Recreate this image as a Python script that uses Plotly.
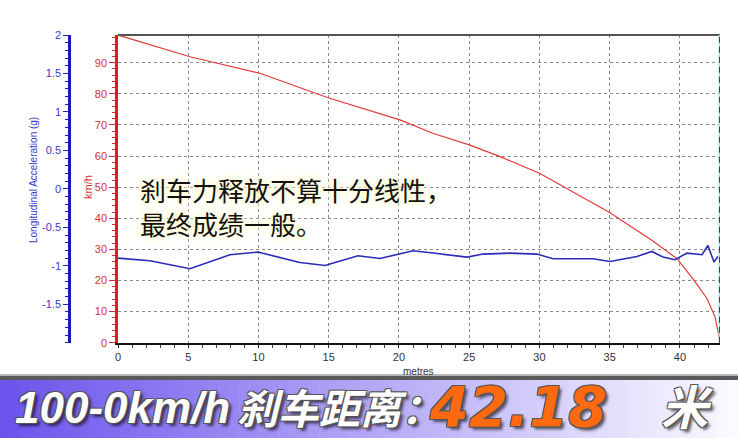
import plotly.graph_objects as go

# ---- data ----
speed_distance_m = [0, 5.12, 10.1, 14.9, 20.07, 22.4, 25.05, 27.2, 30.04, 32.0, 33.4,
                    35.02, 37.97, 39.79, 40.93, 41.92, 42.49, 42.78, 42.85]
speed_kmh = [98.9, 91.9, 86.6, 78.8, 71.6, 67.3, 63.5, 59.8, 54.4, 49.5, 45.9,
             41.8, 33.0, 27.0, 20.5, 14.2, 8.4, 2.5, 0.5]

accel_distance_m = [0, 2.28, 5.12, 7.97, 9.96, 12.95, 14.73, 17.08, 18.65, 19.93, 21.0,
                    22.42, 24.84, 25.98, 27.9, 29.82, 30.96, 33.81, 35.02, 36.94, 38.0,
                    38.79, 39.64, 40.5, 41.57, 41.99, 42.42, 42.7]
accel_g = [-0.90, -0.935, -1.039, -0.857, -0.822, -0.957, -0.996, -0.870, -0.905, -0.848,
           -0.805, -0.835, -0.887, -0.848, -0.835, -0.848, -0.909, -0.909, -0.944, -0.879,
           -0.814, -0.887, -0.922, -0.835, -0.857, -0.736, -0.952, -0.879]

x_ticks = [0, 5, 10, 15, 20, 25, 30, 35, 40]
speed_ticks = [0, 10, 20, 30, 40, 50, 60, 70, 80, 90]
accel_ticks = [-1.5, -1, -0.5, 0, 0.5, 1, 1.5, 2]
accel_tick_text = ["-1.5", "-1", "-0.5", "0", "0.5", "1", "1.5", "2"]

note_lines = ["刹车力释放不算十分线性，", "最终成绩一般。"]
banner_parts = ["100-0km/h", "刹车距离：", "42.18", "米"]

# ---- layout helpers ----
W, H = 738, 438
def px(x):
    return x / W
def py(y):
    return 1 - y / H

X_END = speed_distance_m[-1]

fig = go.Figure()
fig.add_trace(go.Scatter(x=speed_distance_m, y=speed_kmh, mode="lines",
                         line=dict(color="#e23a3a", width=1.2), yaxis="y",
                         showlegend=False, hoverinfo="skip"))
fig.add_trace(go.Scatter(x=accel_distance_m, y=accel_g, mode="lines",
                         line=dict(color="#2b2bb8", width=1.6), yaxis="y2",
                         showlegend=False, hoverinfo="skip"))

tick_font = dict(family="Liberation Sans, Arial, sans-serif", size=11)

fig.update_layout(
    width=W, height=H,
    margin=dict(l=0, r=0, t=0, b=0, autoexpand=False),
    paper_bgcolor="white", plot_bgcolor="white",
    xaxis=dict(domain=[px(118), px(720)], range=[0, X_END], automargin=False,
               tickvals=x_ticks, ticks="outside", ticklen=3, tickcolor="#222",
               tickfont=dict(color="#333", **tick_font),
               showline=True, linecolor="#111", linewidth=2,
               showgrid=True, gridcolor="#8a8a8a", griddash="3px,3px", gridwidth=1,
               minor=dict(dtick=1, ticks="outside", ticklen=3, tickcolor="#444", showgrid=False),
               zeroline=False, fixedrange=True),
    yaxis=dict(domain=[py(342.7), py(35)], range=[0, 98.9], automargin=False,
               tickvals=speed_ticks, ticks="outside", ticklen=6, tickcolor="#d83030",
               tickfont=dict(color="#d83030", **tick_font),
               showline=True, linecolor="#d82020", linewidth=2.5,
               showgrid=True, gridcolor="#8a8a8a", griddash="3px,3px", gridwidth=1,
               minor=dict(dtick=2, ticks="outside", ticklen=3, tickcolor="#d83030", showgrid=False),
               zeroline=False, fixedrange=True),
    yaxis2=dict(overlaying="y", anchor="free", position=px(69), side="left",
                range=[-2, 2], tickvals=accel_ticks, ticktext=accel_tick_text, automargin=False,
                ticks="outside", ticklen=5, tickcolor="#2222bb",
                tickfont=dict(color="#3a3ac8", **tick_font),
                showline=True, linecolor="#1a1ab8", linewidth=2.5,
                showgrid=False, zeroline=False,
                minor=dict(dtick=0.1, ticks="outside", ticklen=3, tickcolor="#2222bb"),
                fixedrange=True),
)

shapes = []
# top border of plot
shapes.append(dict(type="line", xref="paper", yref="paper", x0=px(118), x1=px(720),
                   y0=py(35), y1=py(35), line=dict(color="#555", width=2)))
# end-of-run marker
shapes.append(dict(type="line", xref="x", yref="paper", x0=X_END, x1=X_END,
                   y0=py(342.7), y1=py(35), line=dict(color="#9ee6ee", width=3)))
shapes.append(dict(type="line", xref="x", yref="paper", x0=X_END, x1=X_END,
                   y0=py(342.7), y1=py(35), line=dict(color="#111", width=1.5, dash="6px,4px")))

# banner background gradient
def lerp(a, b, t):
    return int(round(a + (b - a) * t))
c0 = (108, 84, 236)
c1 = (200, 192, 250)
c2 = (250, 250, 255)
n = 74
for i in range(n):
    x0 = i * W / n
    x1 = (i + 1) * W / n + 0.5
    t = i / (n - 1)
    if t < 0.65:
        tt = t / 0.65
        c = tuple(lerp(c0[k], c1[k], tt) for k in range(3))
    else:
        tt = (t - 0.65) / 0.35
        c = tuple(lerp(c1[k], c2[k], tt) for k in range(3))
    shapes.append(dict(type="rect", xref="paper", yref="paper", x0=x0 / W, x1=min(x1, W) / W,
                       y0=0, y1=py(379), fillcolor="rgb(%d,%d,%d)" % c, line=dict(width=0),
                       layer="below"))
shapes.append(dict(type="rect", xref="paper", yref="paper", x0=0, x1=1,
                   y0=py(380), y1=py(376), fillcolor="#5a5a5a", line=dict(width=0)))
shapes.append(dict(type="rect", xref="paper", yref="paper", x0=0, x1=1,
                   y0=py(376), y1=py(374), fillcolor="#b8b8b8", line=dict(width=0)))

annotations = []
annotations.append(dict(xref="paper", yref="paper", x=px(33), y=py(180),
                        xanchor="center", yanchor="middle",
                        text="Longitudinal Acceleration (g)", textangle=-90, showarrow=False,
                        font=dict(family="Liberation Sans, Arial", size=10, color="#3a3ac8")))
annotations.append(dict(xref="paper", yref="paper", x=px(88), y=py(187),
                        xanchor="center", yanchor="middle",
                        text="km/h", textangle=-90, showarrow=False,
                        font=dict(family="Liberation Sans, Arial", size=11, color="#d83030")))
annotations.append(dict(xref="paper", yref="paper", x=px(418), y=py(371),
                        xanchor="center", yanchor="middle",
                        text="metres", showarrow=False, borderpad=0,
                        font=dict(family="Liberation Sans, Arial", size=10, color="#333")))

glow = "0 0 4px #fffbd6, 0 0 8px #fffbd6, 0 0 12px #fff7c8"
annotations.append(dict(xref="paper", yref="paper", x=px(139), y=py(206),
                        xanchor="left", yanchor="middle", align="left",
                        text="<br>".join(note_lines), showarrow=False, borderpad=0,
                        font=dict(family="Noto Sans CJK SC", size=26, color="#111",
                                  shadow=glow)))

outline = ("1px 1px 0 #555, -1px 1px 0 #555, 1px -1px 0 #555, -1px -1px 0 #555, "
           "3px 3px 3px rgba(0,0,0,0.6)")
banner_specs = [
    (banner_parts[0], 14, 44, "white", "Liberation Sans", 407),
    (banner_parts[1], 236, 41, "white", "Noto Sans CJK SC", 406),
    (banner_parts[2], 428, 56, "#ff6a10", "DejaVu Sans", 406),
    (banner_parts[3], 660, 47, "white", "Noto Sans CJK SC", 404),
]
for txt, xl, size, color, fam, yc in banner_specs:
    annotations.append(dict(xref="paper", yref="paper", x=px(xl), y=py(yc),
                            xanchor="left", yanchor="middle", text="<b><i>%s</i></b>" % txt,
                            showarrow=False, borderpad=0,
                            font=dict(family=fam, size=size, color=color, shadow=outline)))

fig.update_layout(shapes=shapes, annotations=annotations)
fig.write_html("out.html", config={"displayModeBar": False},
               post_script="document.body.style.margin='0';document.body.style.overflow='hidden';")
